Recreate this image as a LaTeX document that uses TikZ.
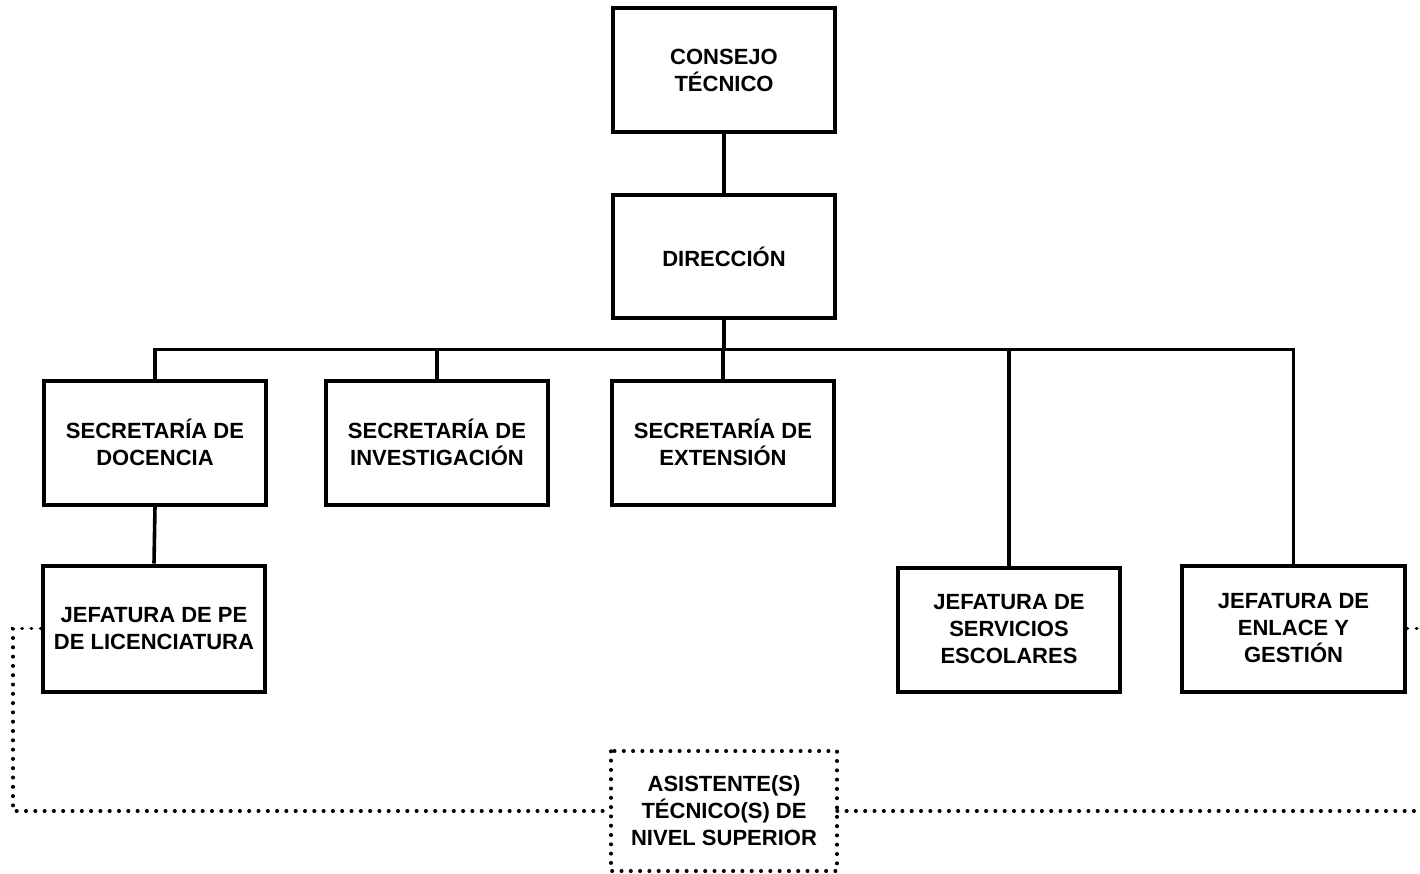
\documentclass[tikz,border=0pt]{standalone}
\usepackage{fontspec}
\setmainfont{Liberation Sans}
\begin{document}
\begin{tikzpicture}[x=1pt,y=-1pt,
  box/.style={draw, line width=4pt, minimum width=222pt, minimum height=124pt, align=center, inner sep=0pt,
    font=\fontsize{22}{27}\selectfont\bfseries},
  dotbox/.style={box, draw=none},
  conn/.style={line width=3.6pt},
  dotline/.style={line width=3.4pt, line cap=round, dash pattern=on 0.6pt off 8.7pt}]
\useasboundingbox (0,0) rectangle (1420,873);
\node[box] (ct) at (724,70) {CONSEJO\\TÉCNICO};
\node[box, minimum height=123pt] (dir) at (724,256.5) {DIRECCIÓN};
\node[box] (doc) at (155,442.5) {SECRETARÍA DE\\DOCENCIA};
\node[box] (inv) at (437,442.5) {SECRETARÍA DE\\INVESTIGACIÓN};
\node[box] (ext) at (723,442.5) {SECRETARÍA DE\\EXTENSIÓN};
\node[box, minimum height=126pt] (pe) at (154,628.5) {JEFATURA DE PE\\DE LICENCIATURA};
\node[box] (ser) at (1009,629.5) {JEFATURA DE\\SERVICIOS\\ESCOLARES};
\node[box, minimum height=126pt, minimum width=223pt] (enl) at (1293.5,628.5) {JEFATURA DE\\ENLACE Y\\GESTIÓN};
\node[dotbox, minimum height=116pt] (asi) at (724,811) {ASISTENTE(S)\\TÉCNICO(S) DE\\NIVEL SUPERIOR};
\draw[dotline] (asi.north west) rectangle (asi.south east);
\coordinate (bus) at (0,349.5);
\coordinate (lx) at (13,0);
\coordinate (rx) at (1425,0);
\draw[conn] (ct.south) -- (dir.north);
\draw[conn] (dir.south) -- (dir.south |- bus);
\draw[conn] (doc.north) -- (doc.north |- bus) -- (enl.north |- bus) -- (enl.north);
\draw[conn] (inv.north) -- (inv.north |- bus);
\draw[conn] (ext.north) -- (ext.north |- bus);
\draw[conn] (ser.north) -- (ser.north |- bus);
\draw[conn] (doc.south) -- (pe.north);
\draw[dotline] (pe.west) -- (pe.west -| lx) |- (asi.west);
\draw[dotline] (enl.east) -- (enl.east -| rx);
\draw[dotline] (asi.east) -- (asi.east -| rx);
\end{tikzpicture}
\end{document}
